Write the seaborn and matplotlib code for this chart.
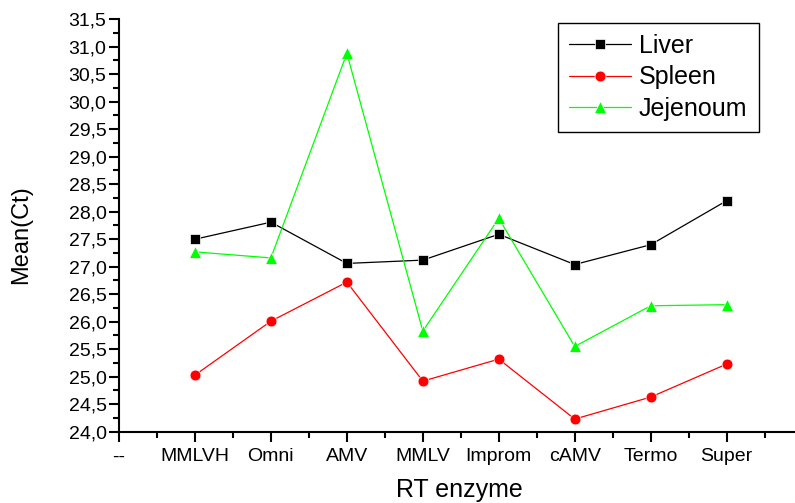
import numpy as np
import pandas as pd
import seaborn as sns
import matplotlib
matplotlib.use("Agg")
import matplotlib.pyplot as plt
from matplotlib.ticker import MultipleLocator, FuncFormatter

# data
enzymes = ["--", "MMLVH", "Omni", "AMV", "MMLV", "Improm", "cAMV", "Termo", "Super"]
measured = enzymes[1:]
liver = [27.50, 27.81, 27.06, 27.12, 27.59, 27.04, 27.40, 28.20]
spleen = [25.03, 26.01, 26.72, 24.92, 25.32, 24.23, 24.63, 25.23]
jejenoum = [27.27, 27.16, 30.88, 25.83, 27.88, 25.55, 26.29, 26.31]

tissues = ["Liver", "Spleen", "Jejenoum"]
series = {"Liver": liver, "Spleen": spleen, "Jejenoum": jejenoum}

rows = []
for t in tissues:
    for name, v in zip(measured, series[t]):
        rows.append({"pos": enzymes.index(name), "ct": v, "tissue": t})
df = pd.DataFrame(rows)

sns.set_style("ticks")
plt.rcParams["font.family"] = ["Liberation Sans", "DejaVu Sans"]
plt.rcParams["text.color"] = "black"
plt.rcParams["axes.labelcolor"] = "black"

fig = plt.figure(figsize=(7.95, 5.03), dpi=100)
ax = fig.add_axes([0.1497, 0.1417, 0.8503, 0.8201])

palette = {"Liver": "#000000", "Spleen": "#ff0000", "Jejenoum": "#00ff00"}
markers = {"Liver": "s", "Spleen": "o", "Jejenoum": "^"}

sns.lineplot(data=df, x="pos", y="ct", hue="tissue", style="tissue",
             hue_order=tissues, style_order=tissues,
             palette=palette, markers=markers, dashes=False,
             linewidth=0.9, markersize=7.8, markeredgewidth=0.5,
             markeredgecolor="white", ax=ax)
for ln in ax.lines:
    if ln.get_marker() == "^":
        ln.set_markersize(9)

ax.set_xlim(0, 8.9)
ax.set_ylim(24.0, 31.5)
ax.set_xticks(range(len(enzymes)))
ax.set_xticklabels(enzymes)
ax.xaxis.set_minor_locator(MultipleLocator(0.5))
ax.yaxis.set_major_locator(MultipleLocator(0.5))
ax.yaxis.set_minor_locator(MultipleLocator(0.25))
ax.yaxis.set_major_formatter(FuncFormatter(lambda v, p: f"{v:.1f}".replace(".", ",")))

for s in ["top", "right"]:
    ax.spines[s].set_visible(False)
for s in ["left", "bottom"]:
    ax.spines[s].set_linewidth(1.5)
    ax.spines[s].set_color("black")

ax.tick_params(which="major", direction="out", length=7, width=1.5,
               labelsize=14, colors="black")
ax.tick_params(axis="y", which="major", pad=2)
ax.tick_params(axis="x", which="major", pad=5)
ax.tick_params(which="minor", direction="out", length=4, width=1.5, colors="black")

ax.set_xlabel("RT enzyme", fontsize=18, color="black")
ax.set_ylabel("Mean(Ct)", fontsize=17, color="black")
ax.xaxis.set_label_coords(0.504, -0.113)
ax.yaxis.set_label_coords(-0.129, 0.477)

leg = ax.legend(loc="upper left", bbox_to_anchor=(0.7015, 0.955),
                bbox_transform=fig.transFigure, borderaxespad=0,
                fontsize=18, frameon=True, fancybox=False, shadow=False,
                handlelength=2.5, handletextpad=0.3, labelspacing=0.3,
                borderpad=0.45, title=None)
leg.get_frame().set_edgecolor("black")
leg.get_frame().set_linewidth(1.0)
leg.get_frame().set_alpha(1)
for h in leg.get_lines():
    if h.get_marker() == "^":
        h.set_markersize(9)

fig.savefig("out.png", dpi=100)
